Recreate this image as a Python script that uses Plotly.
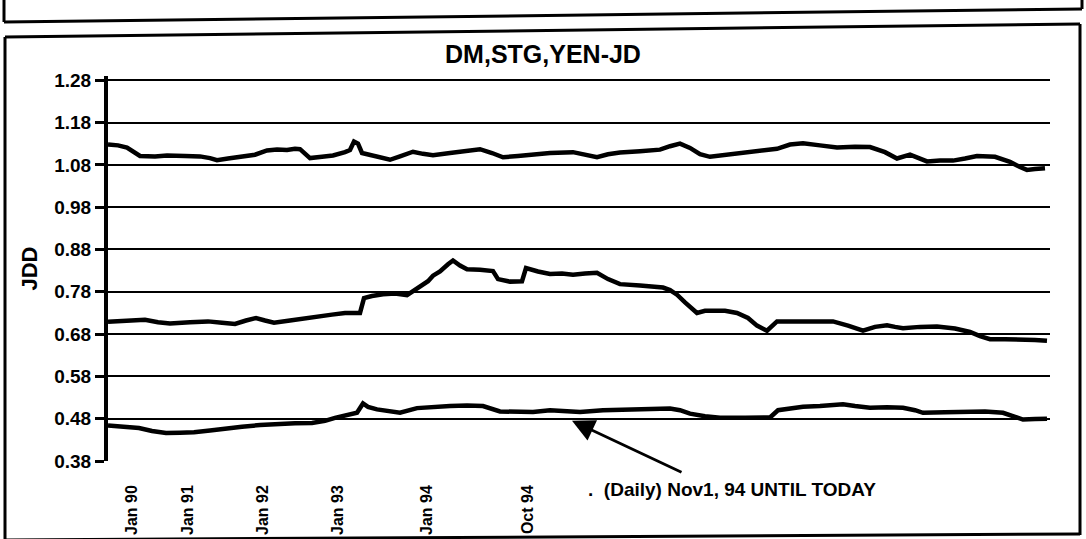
import plotly.graph_objects as go

# ---------------- data ----------------
# x = observation position along the time axis (monthly to Oct 94, daily after)
tick_pos = [4.8, 16, 31, 46, 63.8, 84]
tick_labels = ["Jan 90", "Jan 91", "Jan 92", "Jan 93", "Jan 94", "Oct 94"]
y_ticks = [0.38, 0.48, 0.58, 0.68, 0.78, 0.88, 0.98, 1.08, 1.18, 1.28]

stg_x = [0, 2, 3.8, 5.4, 6.4, 9.4, 11.8, 15.4, 18.4, 20.4, 21.8, 24, 26.4, 29.4, 31.8,
         33.8, 35.8, 37.4, 38.4, 39.4, 40.4, 42.8, 45, 47.4, 48.4, 49.2, 50, 50.8, 51.8,
         54.4, 56.4, 58.4, 61, 63, 65, 68.4, 71.4, 74.4, 76.8, 79, 82, 85, 88.4, 93, 95.4,
         97.8, 100, 102.4, 106.4, 110.4, 112.4, 114.4, 116.4, 118.4, 120.4, 124.4, 129,
         131.4, 133.8, 136.4, 139, 142.4, 145.8, 149.4, 152.4, 155.4, 157.8, 160.4, 162.4,
         163.8, 166.4, 169, 171.4, 173.8, 177.4, 180.4, 182.4, 183.8, 185.4, 187.4]
stg_y = [1.128, 1.126, 1.121, 1.108, 1.101, 1.100, 1.102, 1.101, 1.100, 1.096, 1.091, 1.095,
         1.098, 1.104, 1.114, 1.116, 1.115, 1.118, 1.117, 1.108, 1.096, 1.099, 1.102, 1.110,
         1.115, 1.135, 1.130, 1.108, 1.105, 1.098, 1.092, 1.100, 1.111, 1.106, 1.103, 1.108,
         1.113, 1.117, 1.108, 1.098, 1.101, 1.105, 1.108, 1.110, 1.104, 1.098, 1.105, 1.109,
         1.112, 1.116, 1.124, 1.130, 1.120, 1.105, 1.099, 1.105, 1.110, 1.113, 1.118, 1.128,
         1.131, 1.126, 1.121, 1.123, 1.122, 1.110, 1.095, 1.104, 1.096, 1.088, 1.090, 1.090,
         1.095, 1.101, 1.099, 1.087, 1.075, 1.068, 1.070, 1.072]

yen_x = [0, 3.4, 7.4, 10, 12.4, 16.4, 20, 22.8, 25.4, 27.6, 29.6, 31.4, 33.2, 36.4, 40.8,
         42.8, 44.8, 47.4, 49, 50.4, 51.2, 52.8, 55, 57.4, 59.8, 61.4, 62.4, 64, 65, 66.4,
         68, 69, 70.4, 71.8, 74.4, 77, 78, 80.4, 82.8, 83.6, 86, 88.4, 90.8, 93, 95.4, 97.8,
         100, 102.4, 106.4, 111, 112.4, 113.8, 115.4, 117.8, 119.4, 121, 123.4, 125.8, 128,
         129.8, 131.8, 133.8, 136.4, 139, 142.4, 145, 148, 151, 153.4, 155.8, 157.4, 159,
         162.4, 165.8, 169.4, 172.4, 174.4, 176.4, 179.4, 182.4, 185.4, 187.8]
yen_y = [0.709, 0.712, 0.714, 0.708, 0.705, 0.708, 0.710, 0.707, 0.704, 0.712, 0.718, 0.712,
         0.707, 0.712, 0.718, 0.722, 0.726, 0.730, 0.731, 0.730, 0.765, 0.770, 0.774, 0.776,
         0.772, 0.785, 0.795, 0.805, 0.818, 0.828, 0.845, 0.854, 0.842, 0.833, 0.832, 0.829,
         0.810, 0.804, 0.805, 0.836, 0.828, 0.822, 0.823, 0.820, 0.823, 0.825, 0.810, 0.798,
         0.795, 0.790, 0.784, 0.773, 0.755, 0.730, 0.735, 0.736, 0.735, 0.730, 0.718, 0.700,
         0.688, 0.710, 0.710, 0.709, 0.711, 0.710, 0.700, 0.688, 0.697, 0.701, 0.697, 0.694,
         0.697, 0.698, 0.693, 0.685, 0.675, 0.668, 0.668, 0.668, 0.666, 0.664]

dm_x = [0, 3.4, 6.2, 8.8, 11.6, 14.4, 17.2, 20.4, 23.4, 26.8, 30.4, 33.8, 37.4, 40.8, 43.4,
        45.4, 48.4, 49.8, 51, 52, 53.8, 56.4, 58.4, 61.8, 65, 68.4, 71.8, 75, 78.4, 81.8, 85,
        88.4, 91.4, 94.4, 99, 105.8, 112.4, 114.4, 116.4, 119.4, 122.4, 127.4, 132.4, 134,
        136.4, 139, 142.4, 147, 149.4, 152.4, 155.8, 159, 161.4, 163, 167.4, 172.4, 175.4,
        179, 181, 183, 185.4, 187.8]
dm_y = [0.464, 0.461, 0.458, 0.451, 0.446, 0.447, 0.448, 0.452, 0.455, 0.461, 0.465, 0.468,
        0.469, 0.470, 0.475, 0.482, 0.490, 0.494, 0.516, 0.508, 0.502, 0.498, 0.494, 0.505,
        0.508, 0.510, 0.511, 0.510, 0.497, 0.497, 0.496, 0.500, 0.498, 0.496, 0.500, 0.502,
        0.504, 0.500, 0.492, 0.486, 0.482, 0.482, 0.483, 0.500, 0.505, 0.508, 0.510, 0.514,
        0.510, 0.506, 0.507, 0.506, 0.500, 0.494, 0.495, 0.497, 0.497, 0.494, 0.485, 0.478,
        0.479, 0.480]

title_text = "DM,STG,YEN-JD"
y_title = "JDD"
note_text = ".&nbsp;&nbsp;(Daily) Nov1, 94 UNTIL TODAY"

# ---------------- figure ----------------
W, H = 1086, 539
ML, MR, MT, MB = 108, 36, 76, 78
X_RANGE = [0, 188.4]
Y_RANGE = [0.38, 1.29]


def px(xp, yp):
    """pixel position -> paper coordinates (for frame decoration only)"""
    return ((xp - ML) / (W - ML - MR), ((H - MB) - yp) / (H - MT - MB))


fig = go.Figure()
for name, xs, ys in [("STG", stg_x, stg_y), ("YEN", yen_x, yen_y), ("DM", dm_x, dm_y)]:
    fig.add_trace(go.Scatter(x=xs, y=ys, mode="lines", name=name,
                             line=dict(color="black", width=4.5, shape="linear"),
                             showlegend=False, hoverinfo="skip"))

font_b = "Liberation Sans, Arial, sans-serif"

fig.update_layout(
    width=W, height=H,
    margin=dict(l=ML, r=MR, t=MT, b=MB, pad=0, autoexpand=False),
    paper_bgcolor="white", plot_bgcolor="white",
    title=dict(text="<b>" + title_text + "</b>", x=0.5, xanchor="center",
               y=1 - 54 / H, yanchor="middle",
               font=dict(family=font_b, size=25, color="black")),
    xaxis=dict(range=X_RANGE, showgrid=False, zeroline=False, automargin=False,
               tickmode="array", tickvals=tick_pos,
               ticktext=["<b>" + t + "</b>" for t in tick_labels],
               tickangle=-90, ticks="", ticklabelstandoff=20,
               tickfont=dict(family=font_b, size=16, color="black"),
               showline=False),
    yaxis=dict(range=Y_RANGE, tickmode="array", tickvals=y_ticks, automargin=False,
               ticktext=["<b>%.2f</b>" % v for v in y_ticks],
               tickfont=dict(family=font_b, size=19, color="black"),
               showgrid=True, gridcolor="black", gridwidth=2,
               zeroline=False, showline=True, linecolor="black", linewidth=4,
               ticks="outside", ticklen=9, tickwidth=3, tickcolor="black",
               title=dict(text="<b>" + y_title + "</b>", standoff=12,
                          font=dict(family=font_b, size=22, color="black"))),
)

# arrow and note
fig.add_annotation(x=92.8, y=0.475, ax=115, ay=0.352, xref="x", yref="y",
                   axref="x", ayref="y", text="", showarrow=True,
                   arrowhead=2, arrowsize=1.6, arrowwidth=2.8, arrowcolor="black")
nx, ny = px(586, 490)
fig.add_annotation(x=nx, y=ny, xref="paper", yref="paper", text="<b>" + note_text + "</b>",
                   showarrow=False, xanchor="left", yanchor="middle",
                   font=dict(family=font_b, size=19, color="black"))

# scanned frames (decoration)
segments = [
    ((4, -2), (4, 22)), ((4, 22), (1082, 9)), ((1082, -2), (1082, 9)),
    ((5, 37), (1080, 24)), ((5, 37), (5, 541)), ((1080, 24), (1080, 535)),
    ((5, 540), (1080, 534)),
]
for (x0, y0), (x1, y1) in segments:
    a0, b0 = px(x0, y0)
    a1, b1 = px(x1, y1)
    fig.add_shape(type="line", xref="paper", yref="paper", x0=a0, y0=b0, x1=a1, y1=b1,
                  line=dict(color="black", width=3), layer="above")

fig.write_html("out.html", config={"displayModeBar": False},
               post_script="document.body.style.margin='0';")
